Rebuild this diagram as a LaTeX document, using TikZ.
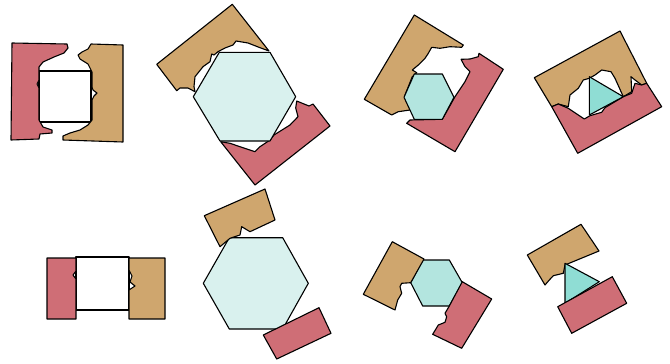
\documentclass[tikz,border=0pt]{standalone}
\begin{document}
\begin{tikzpicture}[x=1pt,y=-1pt,line join=round,
  piece/.style={draw=black,line width=1.1pt},
  redp/.style={piece,fill=redc},
  tanp/.style={piece,fill=tanc},
  hexa/.style={piece,fill=hexl},
  hexb/.style={piece,fill=hexm},
  trip/.style={piece,fill=tric},
  sq/.style={piece,fill=white}]
\definecolor{redc}{HTML}{CF6E76}
\definecolor{tanc}{HTML}{CFA66E}
\definecolor{hexl}{HTML}{D9F1EE}
\definecolor{hexm}{HTML}{B3E5DF}
\definecolor{tric}{HTML}{8FDDD4}
\useasboundingbox (0,0) rectangle (670,364);
% panel 1 top
\draw[sq] (39,71) rectangle (91,122);
\draw[redp] (12,43) -- (67,44) -- (68,48) -- (64,53) -- (54,57) -- (43,62) -- (39,67) -- (39,80) -- (37,84) -- (39,88) -- (39,120) -- (43,127) -- (52,130) -- (52,133) -- (40,134) -- (39,139) -- (11,140) -- cycle;
\draw[tanp] (91,44) -- (123,45) -- (123,142) -- (63,140) -- (63,136) -- (70,133) -- (80,130) -- (88,125) -- (92,120) -- (92,100) -- (94,96) -- (97,93) -- (93,90) -- (92,87) -- (92,72) -- (88,64) -- (80,59) -- (78,55) -- (82,52) -- (88,49) -- cycle;
% panel 1 bottom
\draw[sq] (76,257) rectangle (129,310);
\draw[redp] (47,258) -- (76,258) -- (76,271) -- (73,275) -- (76,279) -- (76,319) -- (47,319) -- cycle;
\draw[tanp] (129,258) -- (165,258) -- (165,319) -- (129,319) -- (129,290) -- (135,286) -- (130,282) -- (132,276) -- (129,270) -- cycle;
% panel 2 top
\draw[tanp] (156.7,64.3) -- (232.3,4.3) -- (269,51) -- (260,47.7) -- (248,43) -- (236,41) -- (233,45) -- (225,48) -- (218,51.7) -- (214,55) -- (211.7,54) -- (210,61.7) -- (203,66.7) -- (195,76.7) -- (194,86.7) -- (195,91.7) -- (188,88) -- (180,88) -- (176.7,90.7) -- cycle;
\draw[redp] (296.7,101) -- (309,106) -- (313,104) -- (330,126) -- (255,185) -- (220.7,141.7) -- (230,143.3) -- (240,146.7) -- (255,151.7) -- (260,146.7) -- (270,140) -- (274,135) -- (290,125) -- (298,116.7) -- (295.7,108) -- cycle;
\draw[hexa] (219.3,52.3) -- (270,52.3) -- (295.7,96.7) -- (270,141) -- (220,141) -- (193.3,96.7) -- cycle;
% panel 2 bottom
\draw[hexa] (229.3,237.7) -- (282.7,237.7) -- (308.3,283.3) -- (282.7,329) -- (229.3,329) -- (203.3,283.3) -- cycle;
\draw[tanp] (204.3,215.7) -- (265,189) -- (275,220) -- (250,231.7) -- (241.7,226.7) -- (240,235) -- (230,238.3) -- (220,246.7) -- cycle;
\draw[redp] (263.3,335) -- (319,307.7) -- (331,333.3) -- (276.7,359) -- cycle;
% panel 3 top
\draw[tanp] (414.3,15) -- (463.3,45) -- (461.7,47.3) -- (450,46.7) -- (440,48.3) -- (431.7,47.3) -- (428.3,53.3) -- (425,58.3) -- (418.3,65) -- (412.3,70) -- (416.7,72.7) -- (412.3,76.7) -- (405,95) -- (410,110) -- (398.3,111.7) -- (391.7,115) -- (364.3,99.3) -- cycle;
\draw[redp] (461,59.3) -- (470,59) -- (478.3,56.7) -- (479,53.3) -- (503.3,69.3) -- (455,151.7) -- (406.7,123.3) -- (410,120) -- (442.3,119.3) -- (455,96.7) -- (465,81.7) -- (470,71.7) -- (465,66.7) -- cycle;
\draw[hexb] (414.3,74) -- (442.3,74) -- (454,97.3) -- (442.3,119.3) -- (414.3,119.3) -- (404,97.3) -- cycle;
% panel 3 bottom
\draw[hexb] (422.7,260) -- (449.3,260) -- (462.3,282.7) -- (449.3,306) -- (422.7,306) -- (410.7,282.7) -- cycle;
\draw[tanp] (392.3,241.7) -- (424,259) -- (410.7,282.7) -- (401.7,283.3) -- (400,286.7) -- (401.7,293.3) -- (397.7,300) -- (395,310) -- (363.3,294.3) -- cycle;
\draw[redp] (462.3,281.7) -- (491.7,299) -- (461.7,348.3) -- (432.7,334.3) -- (438.3,325) -- (445,322.3) -- (446.7,316.7) -- (445,313.3) -- (449.3,306) -- cycle;
% panel 4 top
\draw[tanp] (534.3,77.7) -- (620,31) -- (646.7,83.3) -- (641.7,85) -- (635,80) -- (631,76.7) -- (631.7,91.7) -- (623.3,96.7) -- (615,78.3) -- (611,71.7) -- (601.7,70) -- (595,75) -- (589.3,78.3) -- (583.3,80) -- (578.3,88.3) -- (570,95) -- (568.3,106.7) -- (558.3,104) -- (551.7,106.7) -- cycle;
\draw[redp] (551.7,106.7) -- (558.3,104) -- (568.3,108.3) -- (584.3,119) -- (590,115.7) -- (601.7,112.3) -- (605,107.7) -- (623.3,96.7) -- (631.7,93.3) -- (635,83.3) -- (641.7,85) -- (646.7,83.3) -- (661.7,106.7) -- (577.7,153.3) -- cycle;
\draw[trip] (589.3,76.7) -- (623.3,96.7) -- (589.3,115) -- cycle;
% panel 4 bottom
\draw[tanp] (527.3,255) -- (581,224.3) -- (599,251) -- (565,265) -- (563.3,273.3) -- (553.3,275.7) -- (549.3,280) -- (545,285) -- cycle;
\draw[trip] (565,263.3) -- (599.3,281.7) -- (565,303.3) -- cycle;
\draw[redp] (557.7,306.7) -- (612.3,276.7) -- (626.7,303.3) -- (571.7,333.3) -- cycle;
\end{tikzpicture}
\end{document}
